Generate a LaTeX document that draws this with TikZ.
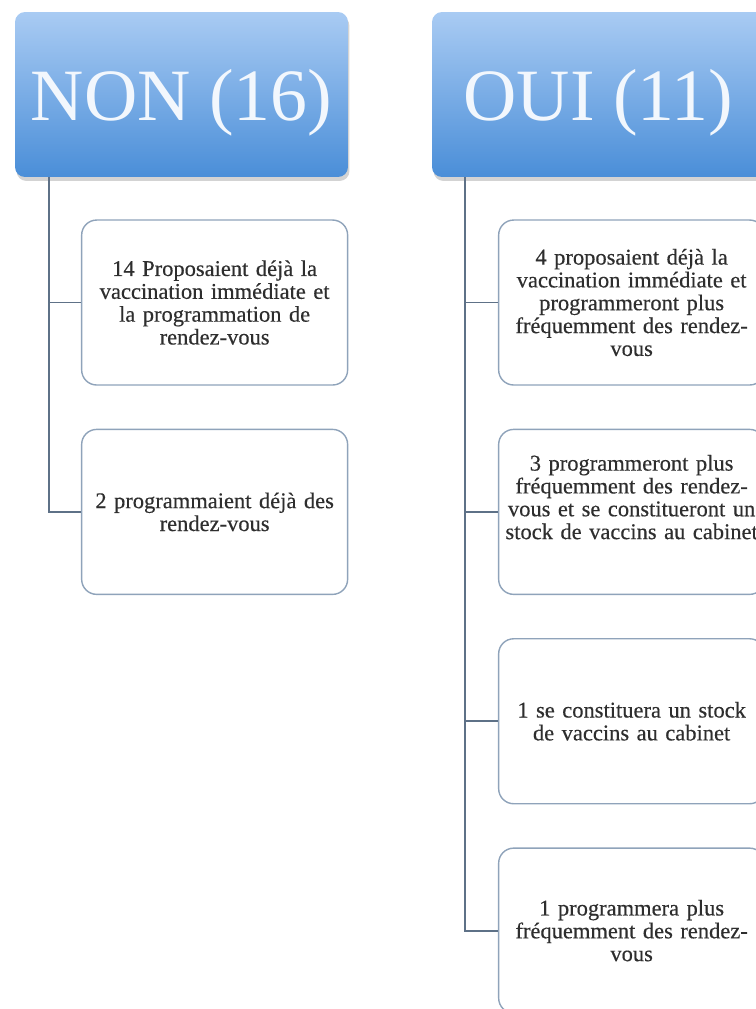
\documentclass[tikz,border=0pt]{standalone}
\usepackage{fontspec}
\setmainfont{Liberation Serif}
\newfontfamily\leaffont[FakeBold=0.35]{Liberation Serif}
\usetikzlibrary{positioning,shadows}
\definecolor{headtop}{HTML}{A9CBF3}
\definecolor{headbot}{HTML}{4A8ED8}
\definecolor{headtext}{HTML}{F2F7FD}
\definecolor{boxline}{HTML}{8FA3BA}
\definecolor{linkline}{HTML}{5E7187}
\definecolor{leaftext}{HTML}{2E2E2E}
\tikzset{
    %Define style for the two header boxes
    head/.style={
           rectangle,
           rounded corners=0.2cm,
           minimum width=6.66cm,
           minimum height=3.3cm,
           text depth=0pt,
           top color=headtop, bottom color=headbot,
           font=\fontsize{42}{42}\selectfont,
           text=headtext,
           drop shadow={shadow xshift=0.3mm, shadow yshift=-0.8mm, fill=black!50, opacity=0.35},
           },
    %Define style for the answer boxes
    leaf/.style={
           rectangle,
           rounded corners=0.3cm,
           draw=boxline, line width=0.8pt,
           fill=white,
           minimum width=5.32cm,
           minimum height=3.3cm,
           text width=5.1cm,
           inner xsep=0.1cm,
           align=center,
           font=\leaffont\fontsize{12.8}{13}\selectfont,
           text=leaftext,
           },
    % Define connector style
    link/.style={
           draw=linkline,
           line width=1.1pt,},
}

\begin{document}
\begin{tikzpicture}[x=0.02cm,y=-0.02cm,node distance=0.86cm]
\useasboundingbox (0,0) rectangle (756,1009);
\clip (0,0) rectangle (756,1009);
\node[head](non) at (181.5,94.5){NON (16)};
\node[head](oui) at (598.5,94.5){OUI (11)};
% NON branch
\node[leaf, below=0.84cm of non.south east, anchor=north east](n1){14 Proposaient déjà la\\ vaccination immédiate et\\ la programmation de\\ rendez-vous};
\node[leaf, below=of n1](n2){2 programmaient déjà des\\ rendez-vous};
% OUI branch
\node[leaf, below=0.84cm of oui.south east, anchor=north east](o1){4 proposaient déjà la\\ vaccination immédiate et\\ programmeront plus\\ fréquemment des rendez-\\ vous};
\node[leaf, below=of o1](o2){3 programmeront plus\\ fréquemment des rendez-\\ vous et se constitueront un\\ stock de vaccins au cabinet\\ \strut};
\node[leaf, below=of o2](o3){1 se constituera un stock\\ de vaccins au cabinet\\[0.1cm]};
\node[leaf, below=of o3](o4){1 programmera plus\\ fréquemment des rendez-\\ vous};
\coordinate (nonroot) at ([xshift=0.68cm]non.south west);
\coordinate (ouiroot) at ([xshift=0.66cm]oui.south west);
\foreach \k in {1,2}
    \draw[link] (nonroot) |- (n\k.west);
\foreach \k in {1,...,4}
    \draw[link] (ouiroot) |- (o\k.west);
\end{tikzpicture}
\end{document}
